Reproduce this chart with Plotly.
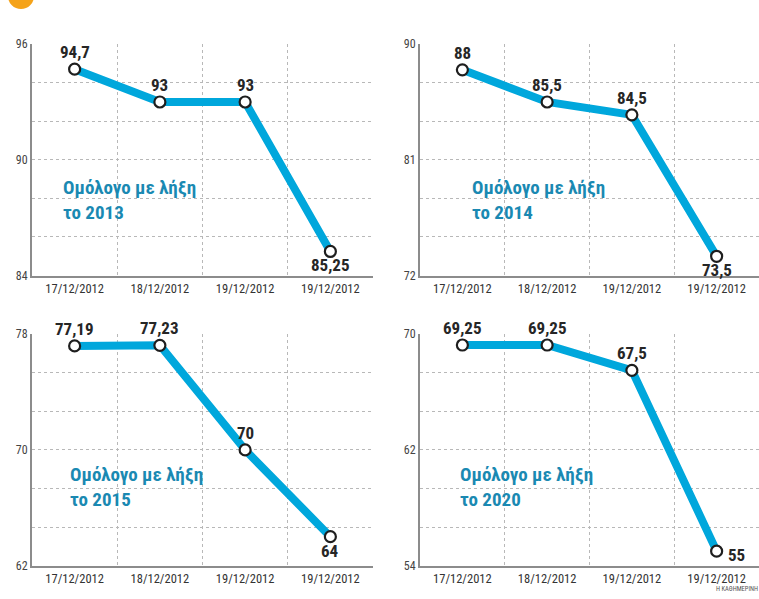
import plotly.graph_objects as go
from plotly.subplots import make_subplots

# ---- data ----
dates = ["17/12/2012", "18/12/2012", "19/12/2012", "19/12/2012"]
bond_2013 = [94.7, 93, 93, 85.25]
bond_2014 = [88, 85.5, 84.5, 73.5]
bond_2015 = [77.19, 77.23, 70, 64]
bond_2020 = [69.25, 69.25, 67.5, 55]
titles = ["Ομόλογο με λήξη<br>το 2013", "Ομόλογο με λήξη<br>το 2014",
          "Ομόλογο με λήξη<br>το 2015", "Ομόλογο με λήξη<br>το 2020"]
y_ranges = [(84, 96), (72, 90), (62, 78), (54, 70)]
credit = "Η ΚΑΘΗΜΕΡΙΝΗ"

series = [bond_2013, bond_2014, bond_2015, bond_2020]

FONT = "Liberation Sans Narrow, Roboto Condensed, Roboto, sans-serif"
LINE_COLOR = "#00a7dc"
TEAL = "#1a89b2"
GRID = "#b8b8b8"
AXIS = "#8c8c8c"

W, H = 759, 599
# pixel boxes of the four panels (left, right, top, bottom)
boxes = [(32, 373, 38, 275), (420, 759, 38, 275),
         (32, 373, 335, 572), (420, 759, 335, 572)]
text_pos = [(61, 198), (470, 198), (68, 491), (458, 491)]

fig = make_subplots(rows=2, cols=2)
x_idx = list(range(len(dates)))

def fmt(v):
    return f"{v:g}".replace(".", ",")

for i, vals in enumerate(series):
    r, c = i // 2 + 1, i % 2 + 1
    fig.add_trace(go.Scatter(
        x=x_idx, y=vals, mode="lines+markers",
        line=dict(color=LINE_COLOR, width=8),
        marker=dict(size=11, color="white", line=dict(color="#1e1e1e", width=2.2)),
        showlegend=False, hoverinfo="skip", cliponaxis=False,
    ), row=r, col=c)

    xa = "x" if i == 0 else f"x{i+1}"
    ya = "y" if i == 0 else f"y{i+1}"
    lo, hi = y_ranges[i]
    for j, v in enumerate(vals):
        last = j == len(vals) - 1
        if last and (v - lo) / (hi - lo) < 0.07:
            # too close to the axis: put the label beside the point
            fig.add_annotation(x=j, y=v, xref=xa, yref=ya, text=f"<b>{fmt(v)}</b>",
                               showarrow=False, xanchor="left", xshift=9, yshift=-4,
                               font=dict(family=FONT, size=17, color="#262626"))
        else:
            fig.add_annotation(x=j, y=v, xref=xa, yref=ya, text=f"<b>{fmt(v)}</b>",
                               showarrow=False, yshift=-14 if last else 17,
                               font=dict(family=FONT, size=17, color="#262626"))

    step = (hi - lo) / 6
    tv = [lo + k * step for k in range(7)]
    tt = [f"{lo:g}", "", "", f"{(lo+hi)/2:g}", "", "", f"{hi:g}"]
    L, R, T, B = boxes[i]
    xdom = [L / W, R / W]
    ydom = [1 - B / H, 1 - T / H]
    fig.update_yaxes(range=[lo, hi], tickvals=tv, ticktext=tt, domain=ydom,
                     showgrid=True, gridcolor=GRID, griddash="dot", gridwidth=1,
                     showline=True, linecolor=AXIS, linewidth=2, zeroline=False,
                     ticks="", tickfont=dict(family=FONT, size=12, color="#444"),
                     row=r, col=c)
    fig.update_xaxes(range=[-0.5, 3.5], tickvals=x_idx, ticktext=dates, domain=xdom,
                     showgrid=False, showline=True, linecolor=AXIS, linewidth=2,
                     zeroline=False, ticks="",
                     tickfont=dict(family=FONT, size=12.5, color="#333"),
                     minor=dict(tickvals=[0.5, 1.5, 2.5, 3.5], showgrid=True,
                                gridcolor=GRID, griddash="dot", gridwidth=1, ticks=""),
                     row=r, col=c)

    px_, py_ = text_pos[i]
    fig.add_annotation(x=px_ / W, y=1 - py_ / H, xref="paper", yref="paper",
                       xanchor="left", yanchor="middle", align="left",
                       text=f"<b>{titles[i]}</b>", showarrow=False,
                       font=dict(family=FONT, size=19, color=TEAL))

# clipped header decoration and credit
fig.add_shape(type="circle", xref="paper", yref="paper",
              x0=8 / W, x1=34 / W, y0=1 + 24 / H, y1=1 - 2 / H,
              fillcolor="#f5a31a", line=dict(width=0))
fig.add_annotation(x=1, y=0, xref="paper", yref="paper", xanchor="right",
                   yanchor="bottom", text=credit, showarrow=False, yshift=-2,
                   borderpad=0,
                   font=dict(family=FONT, size=6.5, color="#555"))

fig.update_layout(width=W, height=H, margin=dict(l=0, r=0, t=0, b=0),
                  paper_bgcolor="white", plot_bgcolor="white",
                  font=dict(family=FONT))
fig.write_html("out.html", config={"displayModeBar": False},
               post_script="document.body.style.margin='0';"
                           "document.body.style.overflow='hidden';")
